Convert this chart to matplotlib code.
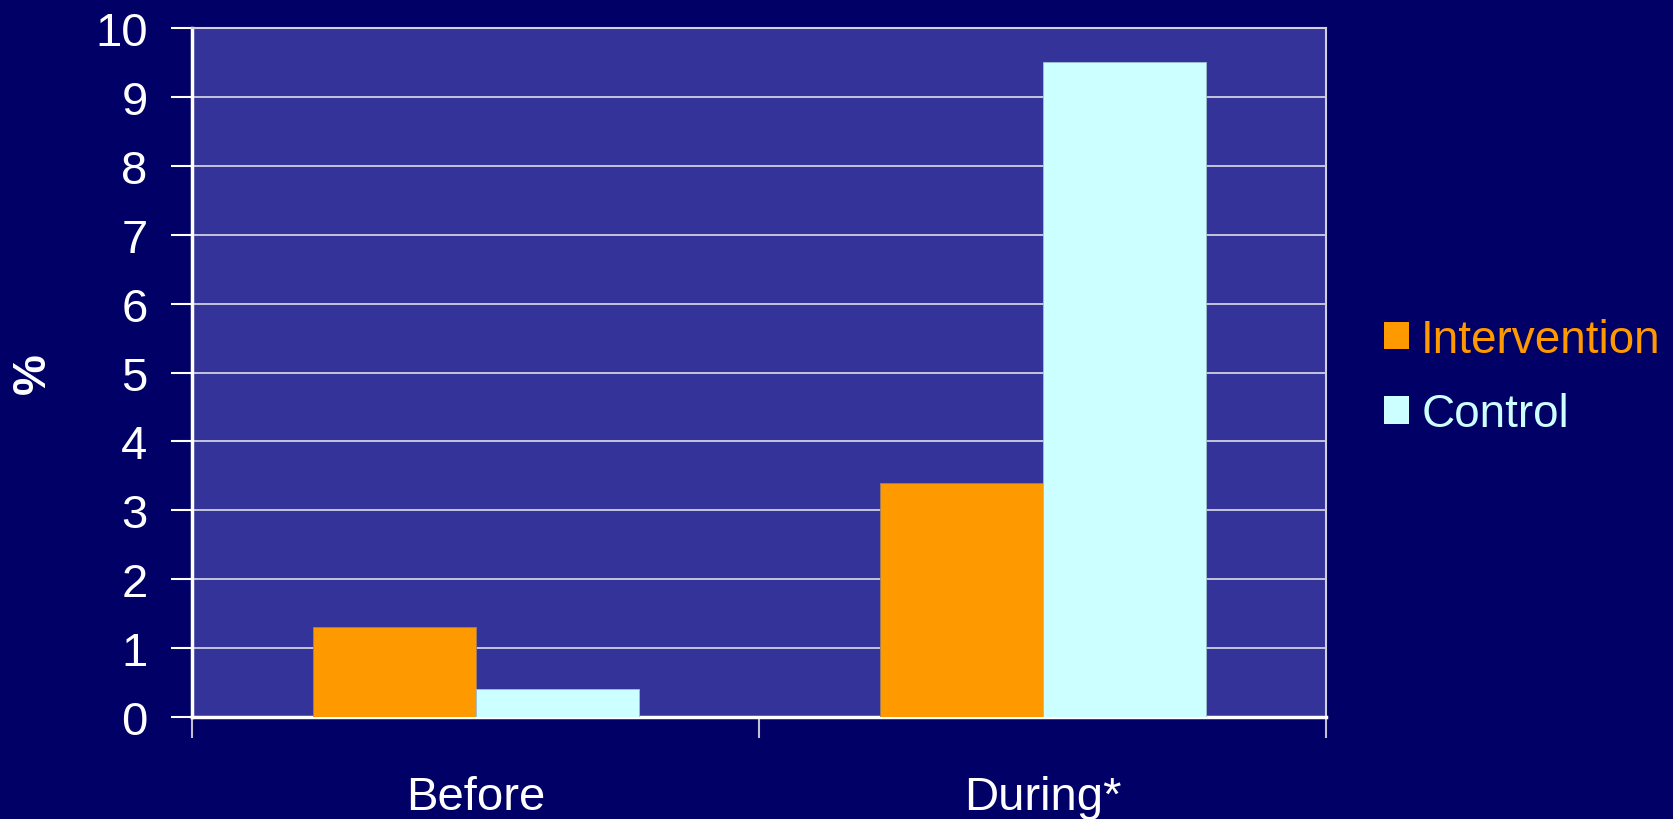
import matplotlib
matplotlib.use("Agg")
import numpy as np
from matplotlib import pyplot as plt
from matplotlib.patches import Patch

# 数据
periods = ["Before", "During*"]
intervention = [1.3, 3.4]
control = [0.4, 9.5]
yticks = list(range(0, 11))

bg_color = "#000066"
plot_color = "#333399"
orange = "#FF9900"
cyan = "#CCFFFF"

plt.rcParams['font.family'] = ['Liberation Sans', 'DejaVu Sans']

fig = plt.figure(figsize=(16.73, 8.2), dpi=100, facecolor=bg_color)
ax = fig.add_axes([0.1148, 0.1244, 0.6778, 0.8402])
ax.set_facecolor(plot_color)

x = np.arange(len(periods))
w = 0.2875
ax.bar(x - w / 2, intervention, width=w, color=orange, edgecolor="#a08060", linewidth=0.6, zorder=3)
ax.bar(x + w / 2, control, width=w, color=cyan, edgecolor="#a0c0d0", linewidth=0.6, zorder=3)

ax.set_xlim(-0.5, 1.5)
ax.set_ylim(0, 10)
ax.set_yticks(yticks)
ax.set_yticklabels([str(t) for t in yticks])

# 网格线
ax.grid(axis="y", color="#d0d0e0", linewidth=1.3, zorder=1)
ax.set_axisbelow(True)

# x 轴: 刻度在分类边界, 标签在分类中间
ax.set_xticks([-0.5, 0.5, 1.5])
ax.set_xticklabels([])
ax.set_xticks(x, minor=True)
ax.set_xticklabels(periods, minor=True)
ax.tick_params(axis="x", which="minor", length=0, pad=42, labelsize=34, labelcolor="white")
ax.tick_params(axis="x", which="major", length=15, width=1.5, color="#c0c0d0", direction="out")
ax.tick_params(axis="y", length=15, width=1.5, color="white", direction="out", pad=17,
               labelsize=34, labelcolor="white")

for side in ["left", "bottom"]:
    ax.spines[side].set_color("white")
    ax.spines[side].set_linewidth(2.5)
for side in ["top", "right"]:
    ax.spines[side].set_color("#d0d0e0")
    ax.spines[side].set_linewidth(1.5)

# y 轴标题
fig.text(33 / 1673, 0.545, "%", color="white", fontsize=33, fontweight="bold",
         rotation=90, ha="center", va="center")

# 图例
handles = [Patch(facecolor=orange, label="Intervention"), Patch(facecolor=cyan, label="Control")]
leg = fig.legend(handles=handles, loc="center left", bbox_to_anchor=(0.8273, 0.539), frameon=False,
                 fontsize=33, handlelength=0.55, handleheight=0.55, handletextpad=0.26,
                 labelspacing=0.67, borderpad=0, borderaxespad=0)
for t, c in zip(leg.get_texts(), [orange, cyan]):
    t.set_color(c)

plt.savefig("out.png", dpi=100, facecolor=bg_color)
